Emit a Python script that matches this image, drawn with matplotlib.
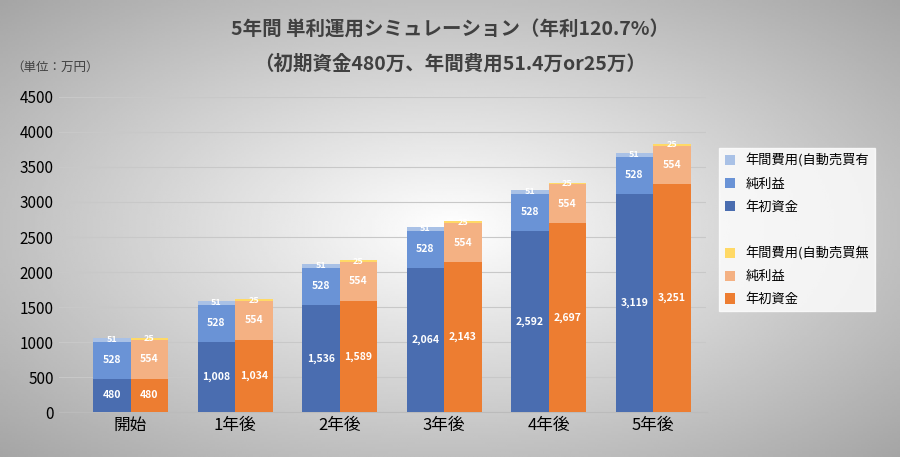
import matplotlib.pyplot as plt
import matplotlib.patches as mpatches
import numpy as np

plt.rcParams['font.family'] = ['Noto Sans CJK JP', 'DejaVu Sans']

cats = ['開始', '1年後', '2年後', '3年後', '4年後', '5年後']
blue_base = [480, 1008, 1536, 2064, 2592, 3119]
blue_profit = [528] * 6
blue_cost = [51] * 6
orng_base = [480, 1034, 1589, 2143, 2697, 3251]
orng_profit = [554] * 6
orng_cost = [25] * 6

fig = plt.figure(figsize=(9, 4.57), dpi=100)

# gray radial background
bg = fig.add_axes([0, 0, 1, 1], zorder=-10)
yy, xx = np.mgrid[-1:1:200j, -1:1:400j]
r = np.sqrt(xx ** 2 + yy ** 2)
bg.imshow(1 - 0.25 * r, cmap='gray', vmin=0, vmax=1, aspect='auto', extent=[0, 1, 0, 1])
bg.axis('off')

ax = fig.add_axes([0.065, 0.098, 0.72, 0.69])
ax.set_facecolor('none')
x = np.arange(len(cats))
w = 0.36

def stack(xpos, base, profit, cost, cols):
    b1 = ax.bar(xpos, base, w, color=cols[0], zorder=3)
    b2 = ax.bar(xpos, profit, w, bottom=base, color=cols[1], zorder=3)
    b3 = ax.bar(xpos, cost, w, bottom=np.array(base) + np.array(profit), color=cols[2], zorder=3)
    for i in range(len(xpos)):
        ax.text(xpos[i], base[i] / 2, f'{base[i]:,}', ha='center', va='center', color='white', fontsize=7.5, fontweight='bold', zorder=4)
        ax.text(xpos[i], base[i] + profit[i] / 2, f'{profit[i]}', ha='center', va='center', color='white', fontsize=7.5, fontweight='bold', zorder=4)
        ax.text(xpos[i], base[i] + profit[i] + cost[i] / 2, f'{cost[i]}', ha='center', va='center', color='white', fontsize=6.5, fontweight='bold', zorder=4)
    return b1, b2, b3

bb = stack(x - w / 2, blue_base, blue_profit, blue_cost, ['#4a6db0', '#6a93d6', '#a9c1e6'])
ob = stack(x + w / 2, orng_base, orng_profit, orng_cost, ['#ed7d31', '#f4b183', '#ffd966'])

ax.set_ylim(0, 4500)
ax.set_yticks(range(0, 4501, 500))
ax.set_xlim(-0.69, 5.51)
ax.set_xticks(x)
ax.set_xticklabels(cats, fontsize=12)
ax.tick_params(axis='y', labelsize=11, length=0)
ax.tick_params(axis='x', length=0)
ax.grid(axis='y', color='#c8c8c8', lw=0.8, zorder=0)
for s in ['top', 'right', 'left']:
    ax.spines[s].set_visible(False)
ax.spines['bottom'].set_color('#bbbbbb')

blank = mpatches.Patch(color='none', label=' ')
handles = [bb[2], bb[1], bb[0], blank, ob[2], ob[1], ob[0]]
labels = ['年間費用(自動売買有', '純利益', '年初資金', ' ', '年間費用(自動売買無', '純利益', '年初資金']
fig.legend(handles, labels, loc='upper left', bbox_to_anchor=(0.792, 0.69), fontsize=9.5,
           frameon=True, fancybox=False, edgecolor='white', facecolor='white',
           handlelength=0.8, handleheight=0.8, labelspacing=0.75)

fig.text(0.5, 0.935, '5年間 単利運用シミュレーション（年利120.7%）', ha='center', va='center', fontsize=14, fontweight='bold', color='#404040')
fig.text(0.5, 0.86, '（初期資金480万、年間費用51.4万or25万）', ha='center', va='center', fontsize=14, fontweight='bold', color='#404040')
fig.text(0.012, 0.845, '（単位：万円）', fontsize=9, color='#404040')

fig.savefig('out.png', dpi=100)
